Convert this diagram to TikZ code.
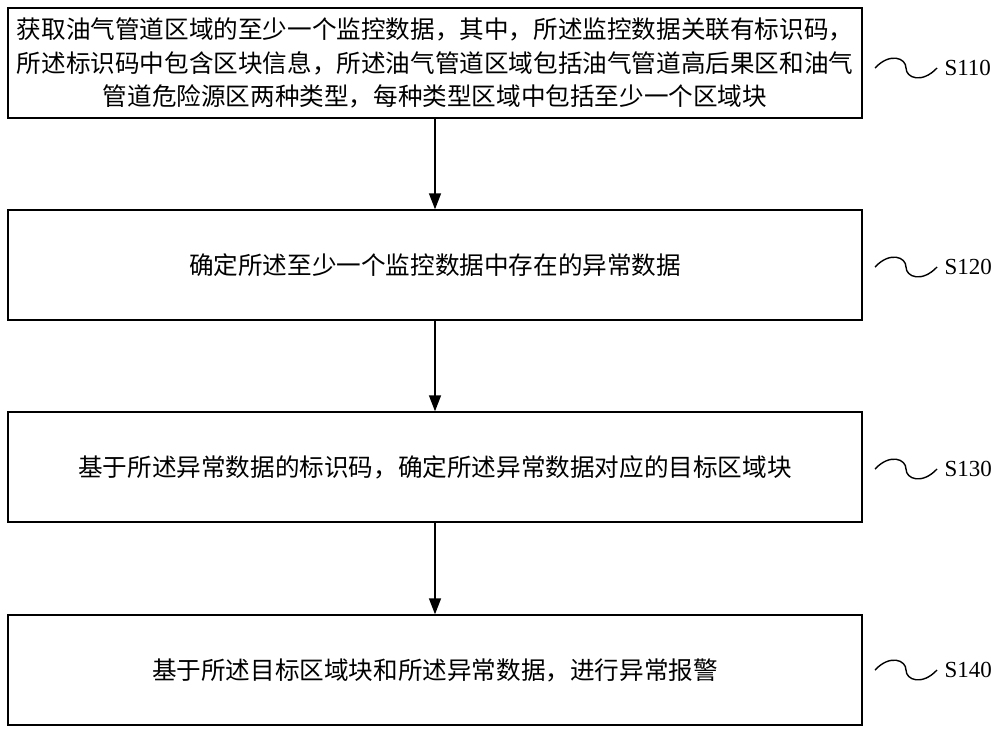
\documentclass[tikz,border=0pt]{standalone}
\usepackage{fontspec}
\newfontfamily\cjk{Noto Sans CJK SC}
\newfontfamily\lserif{Liberation Serif}
\usetikzlibrary{arrows.meta}
\begin{document}
\begin{tikzpicture}[x=1pt,y=-1pt,
  stepbox/.style={draw,line width=1.4pt,minimum width=854pt,minimum height=110pt,inner sep=0pt,align=center,text width=846pt,font=\cjk\fontsize{24.6}{33.5}\selectfont},
  arr/.style={-{Triangle[length=16pt,width=12pt]},line width=1.4pt},
  lbl/.style={font=\lserif\fontsize{23}{25}\selectfont,anchor=west},
  wave/.style={line width=1.4pt}]
\useasboundingbox (0,0) rectangle (1000,732);
\node[stepbox] (b1) at (435,63) {获取油气管道区域的至少一个监控数据，其中，所述监控数据关联有标识码，\\所述标识码中包含区块信息，所述油气管道区域包括油气管道高后果区和油气\\管道危险源区两种类型，每种类型区域中包括至少一个区域块};
\node[stepbox] (b2) at (435,265) {确定所述至少一个监控数据中存在的异常数据};
\node[stepbox] (b3) at (435,467) {基于所述异常数据的标识码，确定所述异常数据对应的目标区域块};
\node[stepbox] (b4) at (435,670) {基于所述目标区域块和所述异常数据，进行异常报警};
\draw[arr] (b1) -- (b2);
\draw[arr] (b2) -- (b3);
\draw[arr] (b3) -- (b4);
\foreach \n/\y/\t in {1/68/S110,2/267/S120,3/469/S130,4/670/S140}{
  \coordinate (w\n a) at (875,\y);
  \coordinate (w\n b) at (937,\y);
  \draw[wave] (w\n a) .. controls (890,\y-16) and (906,\y-10) .. (906,\y) .. controls (906,\y+10) and (922,\y+16) .. (w\n b);
  \node[lbl] (s\n) at (941,\y) {\t};
}
\end{tikzpicture}
\end{document}
